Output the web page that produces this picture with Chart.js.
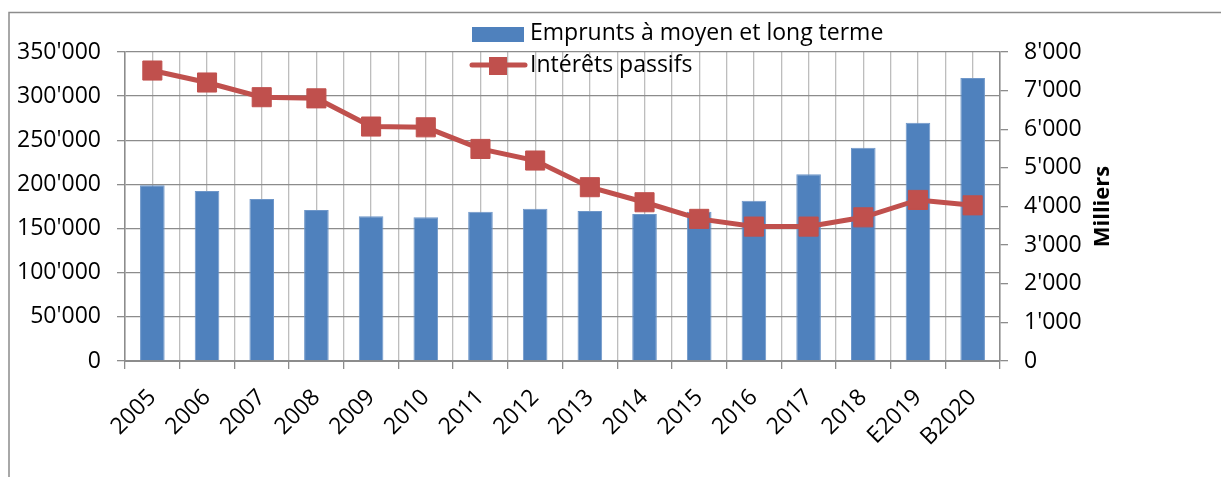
<!DOCTYPE html>
<html>
<head>
<meta charset="utf-8">
<script src="https://cdn.jsdelivr.net/npm/chart.js@4.4.1/dist/chart.umd.min.js"></script>
<style>
  html, body { margin: 0; padding: 0; background: #fff; }
  #wrap { width: 1221px; height: 477px; }
</style>
</head>
<body>
<div id="wrap"><canvas id="chart" width="1221" height="477"></canvas></div>
<script>
const years = ["2005", "2006", "2007", "2008", "2009", "2010", "2011", "2012",
  "2013", "2014", "2015", "2016", "2017", "2018", "E2019", "B2020"];
const emprunts = [199000, 192500, 183500, 171000, 164000, 162700, 169000, 172500,
  170000, 166500, 169000, 181500, 211500, 241500, 270000, 320500];
const interets = [7520, 7210, 6830, 6800, 6070, 6050, 5490, 5190,
  4500, 4110, 3680, 3480, 3480, 3720, 4170, 4030];
const leftTicks = [0, 50000, 100000, 150000, 200000, 250000, 300000, 350000];
const rightTicks = [0, 1000, 2000, 3000, 4000, 5000, 6000, 7000, 8000];

const FONT = "'Open Sans', sans-serif";
const BLUE = "#4F81BD";
const RED = "#C0504D";

const fmt = v => String(v).replace(/\B(?=(\d{3})+(?!\d))/g, "'");

// legend, frame and right axis title
const extras = {
  id: "extras",
  afterDraw(chart) {
    const ctx = chart.ctx;
    const area = chart.chartArea;
    ctx.save();
    ctx.strokeStyle = "#8c8c8c";
    ctx.lineWidth = 1.5;
    ctx.beginPath();
    ctx.moveTo(9, 477);
    ctx.lineTo(9, 12.5);
    ctx.lineTo(1221, 12.5);
    ctx.stroke();

    ctx.font = "23px " + FONT;
    ctx.fillStyle = "#000";
    ctx.textBaseline = "middle";
    ctx.textAlign = "left";
    ctx.fillStyle = BLUE;
    ctx.fillRect(472, 27, 52, 15);
    ctx.fillStyle = "#000";
    ctx.fillText("Emprunts à moyen et long terme", 530, 33);

    ctx.strokeStyle = RED;
    ctx.lineWidth = 5;
    ctx.lineCap = "round";
    ctx.beginPath();
    ctx.moveTo(472, 65);
    ctx.lineTo(525, 65);
    ctx.stroke();
    ctx.fillStyle = RED;
    ctx.fillRect(489, 57, 18, 18);
    ctx.fillStyle = "#000";
    ctx.fillText("Intérêts passifs", 530, 65);

    ctx.translate(1103, (area.top + area.bottom) / 2);
    ctx.rotate(-Math.PI / 2);
    ctx.textAlign = "center";
    ctx.font = "bold 22px " + FONT;
    ctx.fillText("Milliers", 0, 0);
    ctx.restore();
  }
};

new Chart(document.getElementById("chart"), {
  data: {
    labels: years,
    datasets: [
      {
        type: "line",
        label: "Intérêts passifs",
        data: interets,
        yAxisID: "y1",
        xAxisID: "x",
        borderColor: RED,
        backgroundColor: RED,
        borderWidth: 5,
        pointStyle: "rect",
        pointRadius: 13.5,
        pointBorderWidth: 1,
        tension: 0,
        order: 0
      },
      {
        type: "bar",
        label: "Emprunts à moyen et long terme",
        data: emprunts,
        yAxisID: "y",
        xAxisID: "x",
        backgroundColor: BLUE,
        borderColor: "#6f97c9",
        borderWidth: 1,
        barPercentage: 0.45,
        categoryPercentage: 1,
        order: 1
      }
    ]
  },
  options: {
    responsive: false,
    animation: false,
    layout: { padding: { top: 52, left: 0, right: 0, bottom: 0 } },
    plugins: {
      legend: { display: false },
      tooltip: { enabled: false }
    },
    scales: {
      x: {
        position: "bottom",
        offset: true,
        grid: { offset: true, color: "#bdbdbd", lineWidth: 1.3, tickLength: 8, tickColor: "#8c8c8c" },
        border: { color: "#8c8c8c", width: 2 },
        ticks: {
          color: "#000",
          font: { family: FONT, size: 23 },
          maxRotation: 45,
          minRotation: 45,
          autoSkip: false,
          padding: 15
        },
        afterFit: s => { s.height = 116; }
      },
      x2: {
        position: "bottom",
        offset: true,
        grid: { offset: false, color: "#bdbdbd", lineWidth: 1.3, drawTicks: false },
        border: { display: false },
        ticks: { display: false },
        afterFit: s => { s.height = 0; }
      },
      y: {
        position: "left",
        min: 0,
        max: 350000,
        afterBuildTicks: s => { s.ticks = leftTicks.map(v => ({ value: v })); },
        grid: { color: "#8c8c8c", lineWidth: 1.3, tickLength: 8 },
        border: { color: "#8c8c8c", width: 1.5 },
        ticks: {
          color: "#000",
          font: { family: FONT, size: 23 },
          padding: 16,
          callback: v => fmt(v)
        },
        afterFit: s => { s.width = 125; }
      },
      y1: {
        position: "right",
        min: 0,
        max: 8000,
        afterBuildTicks: s => { s.ticks = rightTicks.map(v => ({ value: v })); },
        grid: { drawOnChartArea: false, color: "#8c8c8c", lineWidth: 1.3, tickLength: 8 },
        border: { color: "#8c8c8c", width: 1.5 },
        ticks: {
          color: "#000",
          font: { family: FONT, size: 23 },
          padding: 16,
          callback: v => fmt(v)
        },
        afterFit: s => { s.width = 221; }
      }
    }
  },
  plugins: [extras]
});
</script>
</body>
</html>
